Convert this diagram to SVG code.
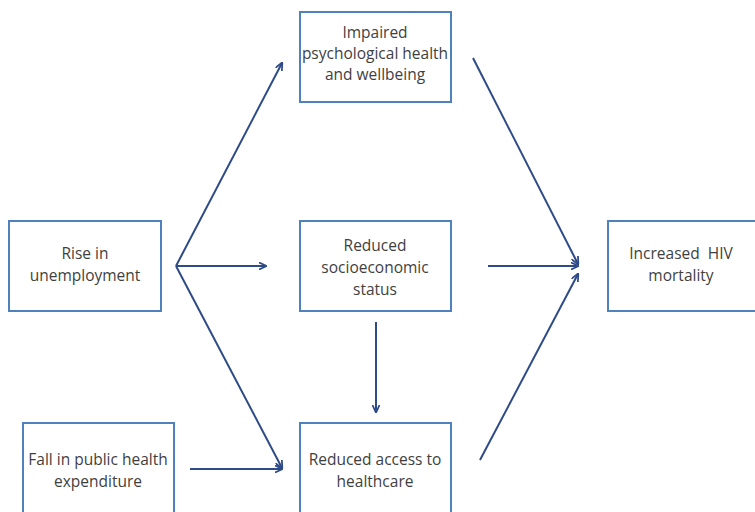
<svg xmlns="http://www.w3.org/2000/svg" width="755" height="512" viewBox="0 0 755 512">
<style>
.box{fill:#fff;stroke:#4F81BD;stroke-width:2}
.t{font-family:"Open Sans","Liberation Sans",sans-serif;font-size:15.5px;fill:#3F3F3F;text-anchor:middle}
.c{stroke:#2E4B87;stroke-width:2;fill:none;marker-end:url(#ah)}
</style>
<defs>
<marker id="ah" viewBox="0 0 10 10" refX="9" refY="5" markerWidth="8" markerHeight="8" markerUnits="userSpaceOnUse" orient="auto">
<path d="M0,0.5 L10,5 L0,9.5" fill="none" stroke="#2E4B87" stroke-width="2.2"/>
</marker>
</defs>
<rect width="755" height="512" fill="#fff"/>
<g id="n-unemployment"><rect class="box" x="9" y="221" width="152" height="90"/><text class="t" x="85" y="259">Rise in</text><text class="t" x="85" y="281">unemployment</text></g>
<g id="n-psych"><rect class="box" x="300" y="12" width="151" height="90"/><text class="t" x="375" y="38">Impaired</text><text class="t" x="375" y="59">psychological health</text><text class="t" x="375" y="80">and wellbeing</text></g>
<g id="n-ses"><rect class="box" x="300" y="221" width="151" height="90"/><text class="t" x="375" y="251">Reduced</text><text class="t" x="375" y="273">socioeconomic</text><text class="t" x="375" y="295">status</text></g>
<g id="n-hiv"><rect class="box" x="608" y="221" width="150" height="90"/><text class="t" x="681" y="259">Increased&#160; HIV</text><text class="t" x="681" y="281">mortality</text></g>
<g id="n-expend"><rect class="box" x="23" y="423" width="151" height="95"/><text class="t" x="98" y="465">Fall in public health</text><text class="t" x="98" y="487">expenditure</text></g>
<g id="n-access"><rect class="box" x="300" y="423" width="151" height="95"/><text class="t" x="375" y="465">Reduced access to</text><text class="t" x="375" y="487">healthcare</text></g>
<g id="connectors">
<path class="c" d="M176,266 L282,63"/>
<path class="c" d="M176,266 L266,266"/>
<path class="c" d="M176,266 L282,468"/>
<path class="c" d="M190,469 L282,469"/>
<path class="c" d="M376,322 L376,412"/>
<path class="c" d="M488,266 L578,266"/>
<path class="c" d="M473,58 L578,264"/>
<path class="c" d="M480,460 L578,274"/>
</g>
</svg>
